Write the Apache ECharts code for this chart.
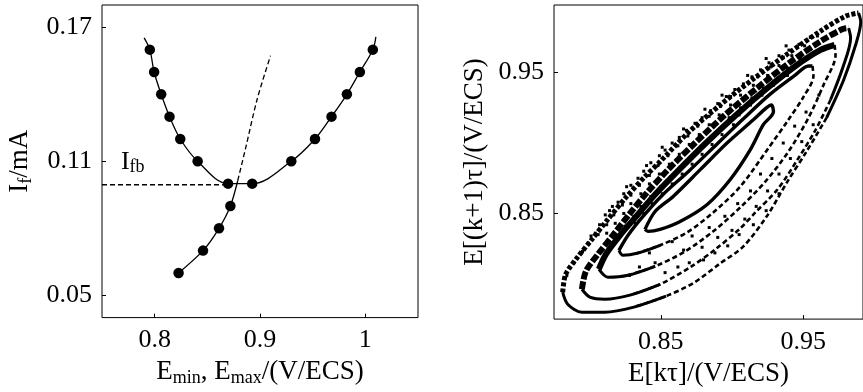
<!DOCTYPE html>
<html><head><meta charset="utf-8">
<script src="https://cdn.jsdelivr.net/npm/echarts@6/dist/echarts.min.js"></script>
<style>html,body{margin:0;padding:0;background:#fff;}#c{width:863px;height:392px;}</style>
</head><body><div id="c"></div>
<script>
// ---------- Left panel data ----------
const ifLevelsU = [0.16, 0.15, 0.14, 0.13, 0.12, 0.11, 0.10];
const eMinU = [0.7954, 0.7995, 0.8062, 0.8141, 0.8243, 0.8408, 0.8697];
const eMaxU = [1.0071, 0.9948, 0.9825, 0.9679, 0.9522, 0.9297, 0.8926];
const uCurveStart = [0.790, 0.1653];
const uCurveEnd = [1.010, 0.1657];
const ifLevelsL = [0.06, 0.07, 0.08, 0.09];
const eLow = [0.8227, 0.8459, 0.8611, 0.8719];
const lowCurveEnd = [0.8789, 0.1014];
const dashedExtension = [[0.8789, 0.1014], [0.8862, 0.1156], [0.8973, 0.1378], [0.910, 0.1573]];
const ifbLine = [[0.75, 0.0995], [0.866, 0.0995]];
const ifbLabelPos = [0.768, 0.1095];
const xTicksLeft = [0.8, 0.9, 1.0];
const yTicksLeft = [0.05, 0.11, 0.17];

// ---------- Right panel data (return map loops) ----------
const loopEUpper = [[0.8389,0.8387],[0.8460,0.8514],[0.8587,0.8621],[0.8777,0.8811],[0.8967,0.9002],[0.9150,0.9165],[0.9241,0.9250],[0.9277,0.9271]];
const loopELower = [[0.9277,0.9271],[0.9291,0.9222],[0.9220,0.9130],[0.9129,0.8953],[0.8988,0.8741],[0.8826,0.8564],[0.8636,0.8443],[0.8495,0.8387],[0.8410,0.8373],[0.8389,0.8387]];
const loopDUpper = [[0.8206,0.8238],[0.8269,0.8344],[0.8375,0.8479],[0.8509,0.8628],[0.8700,0.8804],[0.8890,0.8988],[0.9080,0.9172],[0.9270,0.9349],[0.9446,0.9484],[0.9537,0.9547],[0.9565,0.9547]];
const loopDLower = [[0.9565,0.9547],[0.9572,0.9477],[0.9502,0.9328],[0.9396,0.9165],[0.9248,0.8953],[0.9058,0.8691],[0.8868,0.8507],[0.8685,0.8366],[0.8495,0.8274],[0.8333,0.8217],[0.8234,0.8203],[0.8206,0.8238]];
const loopCUpper = [[0.8065,0.8104],[0.8114,0.8210],[0.8213,0.8344],[0.8333,0.8486],[0.8460,0.8635],[0.8622,0.8804],[0.8819,0.9002],[0.9023,0.9194],[0.9234,0.9378],[0.9446,0.9547],[0.9622,0.9661],[0.9720,0.9696]];
const loopCLower = [[0.9720,0.9696],[0.9727,0.9625],[0.9643,0.9413],[0.9537,0.9179],[0.9396,0.8939],[0.9234,0.8726],[0.9058,0.8543],[0.8868,0.8373],[0.8671,0.8231],[0.8460,0.8125],[0.8269,0.8061],[0.8128,0.8047],[0.8065,0.8104]];
const loopBUpper = [[0.7946,0.7962],[0.7974,0.8090],[0.8058,0.8210],[0.8163,0.8344],[0.8283,0.8500],[0.8410,0.8656],[0.8551,0.8811],[0.8742,0.9002],[0.8953,0.9201],[0.9178,0.9392],[0.9411,0.9576],[0.9636,0.9731],[0.9777,0.9809],[0.9819,0.9816]];
const loopBLower = [[0.9819,0.9816],[0.9833,0.9746],[0.9777,0.9533],[0.9692,0.9307],[0.9587,0.9094],[0.9460,0.8882],[0.9319,0.8670],[0.9164,0.8507],[0.9058,0.8394],[0.8883,0.8245],[0.8706,0.8118],[0.8495,0.7997],[0.8283,0.7920],[0.8107,0.7891],[0.8002,0.7906],[0.7946,0.7962]];
const loopAUpper = [[0.7811,0.7941],[0.7832,0.8068],[0.7910,0.8182],[0.8016,0.8316],[0.8128,0.8458],[0.8255,0.8614],[0.8389,0.8762],[0.8495,0.8868],[0.8692,0.9073],[0.8918,0.9271],[0.9150,0.9455],[0.9389,0.9632],[0.9622,0.9795],[0.9798,0.9901],[0.9889,0.9923]];
const loopALower = [[0.9889,0.9923],[0.9904,0.9859],[0.9868,0.9696],[0.9784,0.9448],[0.9664,0.9179],[0.9523,0.8939],[0.9389,0.8726],[0.9248,0.8486],[0.9080,0.8266],[0.8918,0.8146],[0.8727,0.8005],[0.8537,0.7913],[0.8311,0.7835],[0.8107,0.7799],[0.7946,0.7799],[0.7846,0.7856],[0.7811,0.7941]];
const noiseFringe = [[0.784,0.806],[0.789,0.815],[0.795,0.823],[0.799,0.829],[0.804,0.836],[0.807,0.842],[0.811,0.849],[0.816,0.855],[0.820,0.858],[0.824,0.864],[0.829,0.870],[0.834,0.875],[0.838,0.880],[0.843,0.886],[0.849,0.891],[0.853,0.895],[0.858,0.900],[0.863,0.904],[0.868,0.909],[0.874,0.914],[0.879,0.918],[0.885,0.923],[0.890,0.928],[0.896,0.933],[0.902,0.938],[0.908,0.942],[0.914,0.947],[0.920,0.952],[0.926,0.957],[0.933,0.962],[0.940,0.966],[0.947,0.970],[0.955,0.975],
  [0.801,0.834],[0.814,0.852],[0.826,0.869],[0.840,0.884],[0.851,0.897],[0.866,0.910],[0.881,0.924],[0.893,0.934],[0.911,0.948],[0.924,0.960],[0.938,0.969]];
const noiseBand = [
  [0.806,0.835],[0.812,0.836],[0.818,0.834],[0.823,0.836],
  [0.812,0.842],[0.818,0.843],[0.825,0.841],[0.832,0.843],
  [0.817,0.849],[0.824,0.850],[0.831,0.848],[0.838,0.850],
  [0.823,0.856],[0.829,0.857],[0.836,0.855],[0.844,0.857],
  [0.829,0.863],[0.836,0.864],[0.843,0.862],[0.851,0.864],
  [0.835,0.870],[0.842,0.871],[0.850,0.869],[0.858,0.871],
  [0.842,0.877],[0.849,0.878],[0.857,0.876],[0.865,0.878],
  [0.848,0.884],[0.856,0.885],[0.864,0.883],[0.872,0.885],
  [0.855,0.891],[0.863,0.892],[0.871,0.890],[0.879,0.892],
  [0.862,0.898],[0.870,0.899],[0.878,0.897],[0.886,0.899],
  [0.869,0.905],[0.877,0.906],[0.885,0.904],[0.893,0.906],
  [0.876,0.912],[0.884,0.913],[0.893,0.911],[0.901,0.913],
  [0.884,0.919],[0.891,0.920],[0.898,0.918],[0.905,0.920],
  [0.892,0.926],[0.899,0.927],[0.906,0.925],[0.913,0.927],
  [0.899,0.933],[0.906,0.934],[0.914,0.932],[0.921,0.934],
  [0.908,0.940],[0.915,0.941],[0.922,0.939],[0.929,0.941],
  [0.918,0.947],[0.925,0.948],[0.932,0.946],[0.939,0.948],
  [0.927,0.954],[0.933,0.955],[0.939,0.953],[0.944,0.955],
  [0.936,0.961],[0.942,0.962],[0.948,0.960],
  [0.946,0.968],[0.951,0.969],
  [0.956,0.975],[0.960,0.976]];
const noiseLower = [[0.858,0.830],[0.866,0.824],[0.872,0.834],[0.879,0.826],[0.884,0.840],[0.890,0.833],[0.895,0.848],[0.900,0.838],[0.904,0.857],[0.909,0.846],[0.913,0.866],[0.917,0.855],[0.920,0.878],[0.925,0.866],[0.928,0.889],[0.933,0.878],[0.936,0.900],[0.941,0.889],[0.944,0.912],[0.949,0.901],[0.952,0.922],[0.957,0.913],[0.961,0.934],[0.846,0.815],[0.853,0.808],[0.862,0.812],[0.870,0.815],[0.880,0.817],[0.888,0.822],[0.897,0.827],[0.905,0.835],[0.915,0.842],[0.924,0.852],[0.933,0.864],[0.842,0.822],[0.835,0.812],[0.828,0.806]];
const ticksRight = [0.85, 0.95];

// ---------- Build ----------
const FONT = 'Liberation Serif';
const rich = {
  e: {fontFamily: FONT, fontSize: 27, lineHeight: 30, color: '#000'},
  s: {fontFamily: FONT, fontSize: 18, lineHeight: 18, verticalAlign: 'bottom', color: '#000'}
};
const uMarkers = eMinU.map((e, i) => [e, ifLevelsU[i]]).concat(eMaxU.map((e, i) => [e, ifLevelsU[i]]));
const uCurve = [uCurveStart]
  .concat(eMinU.map((e, i) => [e, ifLevelsU[i]]))
  .concat(eMaxU.map((e, i) => [e, ifLevelsU[i]]).reverse())
  .concat([uCurveEnd]);
const lowMarkers = eLow.map((e, i) => [e, ifLevelsL[i]]);
const lowCurve = lowMarkers.concat([lowCurveEnd]);

function tickStyle(vals) {
  return {show: true, inside: true, length: 4, customValues: vals, lineStyle: {color: '#000', width: 1}};
}
function lbl(vals, fmt, margin) {
  return {customValues: vals, fontFamily: FONT, fontSize: 26, color: '#000', margin: margin, formatter: fmt};
}
function lineSer(x, y, data, opt) {
  return Object.assign({type: 'line', xAxisIndex: x, yAxisIndex: y, data: data, showSymbol: false, symbol: 'none', animation: false,
    lineStyle: {color: '#000', width: 1.3}}, opt || {});
}

const series = [
  lineSer(0, 0, uCurve, {smooth: 0.35}),
  lineSer(0, 0, lowCurve, {smooth: 0.3}),
  lineSer(0, 0, dashedExtension, {smooth: 0.3, lineStyle: {color: '#000', width: 1.3, type: [5, 3]}}),
  lineSer(0, 0, ifbLine, {lineStyle: {color: '#000', width: 1.3, type: [5, 3]}}),
  {type: 'scatter', xAxisIndex: 0, yAxisIndex: 0, data: uMarkers.concat(lowMarkers), symbol: 'circle', symbolSize: 10.5,
   itemStyle: {color: '#000', opacity: 1}, animation: false, z: 5},
  {type: 'scatter', xAxisIndex: 0, yAxisIndex: 0, data: [ifbLabelPos], symbolSize: 0, animation: false,
   itemStyle: {opacity: 1},
   label: {show: true, position: 'right', distance: 0, opacity: 1, formatter: '{i|I}{s|fb}', rich: {
     i: {fontFamily: FONT, fontSize: 26, lineHeight: 28, color: '#000', opacity: 1},
     s: {fontFamily: FONT, fontSize: 18, lineHeight: 18, verticalAlign: 'bottom', color: '#000', opacity: 1}}}}
];
series.push(lineSer(1, 1, loopEUpper.concat(loopELower.slice(1)), {smooth: 0.3, lineStyle: {color: '#000', width: 3.4}}));
// lower arcs: solid near both tips, dashed along the long lower-right side
function splitLower(arr) {
  let a = 0; while (a < arr.length - 1 && arr[a][0] > 0.975) a++;
  let b = arr.length - 1; while (b > 0 && arr[b][0] < 0.84) b--;
  return {tipTR: arr.slice(0, a + 1), mid: arr.slice(a, b + 2), tipBL: arr.slice(b + 1 > 0 ? b : 0)};
}
const upperStyles = [
  {width: 3.4},
  {width: 6},
  {width: 6, type: [8, 2]},
  {width: 5, type: [4, 2]}
];
[[loopDUpper, loopDLower], [loopCUpper, loopCLower], [loopBUpper, loopBLower], [loopAUpper, loopALower]].forEach((p, k) => {
  series.push(lineSer(1, 1, p[0], {smooth: 0.3, lineStyle: Object.assign({color: '#000'}, upperStyles[k])}));
  const s = splitLower(p[1]);
  if (s.tipTR.length > 1) series.push(lineSer(1, 1, s.tipTR, {smooth: 0.3, lineStyle: {color: '#000', width: 3}}));
  series.push(lineSer(1, 1, s.mid, {smooth: 0.3, lineStyle: {color: '#000', width: 2.6, type: [5, 3]}}));
  if (s.tipBL.length > 1) series.push(lineSer(1, 1, s.tipBL, {smooth: 0.3, lineStyle: {color: '#000', width: 3}}));
});
series.push({type: 'scatter', xAxisIndex: 1, yAxisIndex: 1, data: noiseFringe.concat(noiseBand).concat(noiseLower), symbol: 'rect', symbolSize: 3,
  itemStyle: {color: '#000', opacity: 1}, animation: false});

const option = {
  animation: false,
  backgroundColor: '#fff',
  grid: [
    {left: 102, top: 5, width: 316, height: 315, show: true, borderColor: '#000', borderWidth: 1},
    {left: 554, top: 5, width: 309, height: 315, show: true, borderColor: '#000', borderWidth: 1}
  ],
  xAxis: [
    {gridIndex: 0, type: 'value', min: 0.75, max: 1.05, axisLine: {show: false}, splitLine: {show: false},
     axisTick: tickStyle(xTicksLeft), axisLabel: lbl(xTicksLeft, v => String(+(+v).toFixed(1)), 10),
     name: '{e|E}{s|min}{e|, E}{s|max}{e|/(V/ECS)}', nameLocation: 'middle', nameGap: 37,
     nameTextStyle: {fontFamily: FONT, fontSize: 27, color: '#000', rich: rich}},
    {gridIndex: 1, type: 'value', min: 0.775, max: 0.992, axisLine: {show: false}, splitLine: {show: false},
     axisTick: tickStyle(ticksRight), axisLabel: lbl(ticksRight, v => (+v).toFixed(2), 10),
     name: 'E[kτ]/(V/ECS)', nameLocation: 'middle', nameGap: 37,
     nameTextStyle: {fontFamily: FONT, fontSize: 27, color: '#000'}}
  ],
  yAxis: [
    {gridIndex: 0, type: 'value', min: 0.04, max: 0.18, axisLine: {show: false}, splitLine: {show: false},
     axisTick: tickStyle(yTicksLeft), axisLabel: lbl(yTicksLeft, v => (+v).toFixed(2), 10),
     name: '{e|I}{s|f}{e|/mA}', nameLocation: 'middle', nameGap: 67,
     nameTextStyle: {fontFamily: FONT, fontSize: 27, color: '#000', rich: rich}},
    {gridIndex: 1, type: 'value', min: 0.775, max: 0.998, axisLine: {show: false}, splitLine: {show: false},
     axisTick: tickStyle(ticksRight), axisLabel: lbl(ticksRight, v => (+v).toFixed(2), 10),
     name: 'E[(k+1)τ]/(V/ECS)', nameLocation: 'middle', nameGap: 66,
     nameTextStyle: {fontFamily: FONT, fontSize: 27, color: '#000'}}
  ],
  series: series
};
const chart = echarts.init(document.getElementById('c'), null, {renderer: 'canvas'});
chart.setOption(option);
</script>
</body></html>
